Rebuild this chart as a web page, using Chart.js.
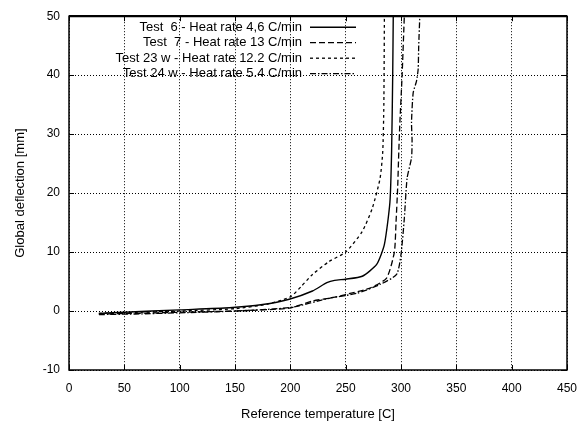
<!DOCTYPE html>
<html>
<head>
<meta charset="utf-8">
<script src="https://cdn.jsdelivr.net/npm/chart.js@4.4.1/dist/chart.umd.min.js"></script>
<style>
  html, body { margin: 0; padding: 0; background: #fff; }
  #wrap { width: 579px; height: 422px; }
</style>
</head>
<body>
<div id="wrap"><canvas id="myChart" width="579" height="422"></canvas></div>
<script>
// values: temperature [C] -> deflection [mm]
const labels = [
  "Test  6 - Heat rate 4,6 C/min",
  "Test  7 - Heat rate 13 C/min",
  "Test 23 w - Heat rate 12.2 C/min",
  "Test 24 w - Heat rate 5.4 C/min",
];

const test6T = [27, 50, 100, 145, 175, 199, 220, 233, 240, 250, 265, 278, 285, 290, 291.5, 292.5, 293];
const test6D = [-0.4, -0.2, 0.2, 0.55, 1.1, 2, 3.4, 4.8, 5.2, 5.4, 5.9, 7.9, 11.3, 18.5, 27, 40, 50];

const test7T = [27, 60, 100, 150, 199, 220, 236, 250, 272, 287, 294, 295.5, 297, 298, 299, 301, 303];
const test7D = [-0.5, -0.4, -0.2, 0, 0.5, 1.7, 2.2, 2.8, 3.9, 5.6, 10, 15, 21, 27, 32, 40, 50];

const test23T = [27, 50, 100, 150, 180, 200, 210, 220, 235, 250, 265, 274, 281, 283.5, 284.5, 285];
const test23D = [-0.4, -0.3, 0, 0.4, 1.2, 2.4, 4.2, 6.2, 8.4, 10, 13.5, 17.4, 22.4, 27, 35, 50];

const test24T = [27, 60, 100, 150, 200, 236, 260, 281, 296, 300, 303, 305.5, 309.5, 310, 309.5, 311, 314, 315.5, 316, 317];
const test24D = [-0.6, -0.5, -0.3, 0, 0.6, 2.2, 3, 4.5, 6.2, 9.6, 15.7, 22.5, 26, 29, 32, 37, 39, 41, 45, 50];

const xTicks = [0, 50, 100, 150, 200, 250, 300, 350, 400, 450];
const yTicks = [-10, 0, 10, 20, 30, 40, 50];

function toPoints(xs, ys) {
  return xs.map((x, i) => ({ x: x, y: ys[i] }));
}

const font = "'Liberation Sans', Arial, Helvetica, sans-serif";

// legend drawn inside the top right of the plot: text right aligned, line sample after it
const legendInside = {
  id: "legendInside",
  afterDatasetsDraw(chart) {
    const ctx = chart.ctx;
    const area = chart.chartArea;
    ctx.save();
    ctx.font = "13px " + font;
    ctx.fillStyle = "#000";
    ctx.textAlign = "right";
    ctx.textBaseline = "middle";
    chart.data.datasets.forEach((ds, i) => {
      const y = area.top + 11 + i * 15.5;
      ctx.fillText(ds.label, area.left + 233, y);
      ctx.beginPath();
      ctx.lineWidth = ds.borderWidth;
      ctx.strokeStyle = ds.borderColor;
      ctx.setLineDash(ds.borderDash || []);
      ctx.moveTo(area.left + 241, y);
      ctx.lineTo(area.left + 287, y);
      ctx.stroke();
    });
    ctx.restore();
  },
};

// full box round the plot, with small inward tick marks
const frame = {
  id: "frame",
  afterDraw(chart) {
    const ctx = chart.ctx;
    const a = chart.chartArea;
    const xs = chart.scales.x;
    const ys = chart.scales.y;
    ctx.save();
    ctx.strokeStyle = "#000";
    ctx.lineWidth = 1;
    ctx.beginPath();
    xTicks.forEach((v) => {
      const px = Math.round(xs.getPixelForValue(v)) + 0.5;
      ctx.moveTo(px, a.bottom);
      ctx.lineTo(px, a.bottom - 5);
      ctx.moveTo(px, a.top);
      ctx.lineTo(px, a.top + 5);
    });
    yTicks.forEach((v) => {
      const py = Math.round(ys.getPixelForValue(v)) + 0.5;
      ctx.moveTo(a.left, py);
      ctx.lineTo(a.left + 5, py);
      ctx.moveTo(a.right, py);
      ctx.lineTo(a.right - 5, py);
    });
    ctx.stroke();
    ctx.lineWidth = 1.5;
    ctx.strokeRect(a.left, a.top, a.right - a.left, a.bottom - a.top);
    ctx.lineWidth = 2.2;
    ctx.beginPath();
    ctx.moveTo(a.left, a.top);
    ctx.lineTo(a.right, a.top);
    ctx.stroke();
    ctx.restore();
  },
};

const whiteBg = {
  id: "whiteBg",
  beforeDraw(chart) {
    const ctx = chart.ctx;
    ctx.save();
    ctx.fillStyle = "#fff";
    ctx.fillRect(0, 0, chart.width, chart.height);
    ctx.restore();
  },
};

const ctx = document.getElementById("myChart");

new Chart(ctx, {
  type: "line",
  data: {
    datasets: [
      {
        label: labels[0],
        data: toPoints(test6T, test6D),
        borderColor: "#000",
        borderWidth: 1.4,
        borderDash: [],
      },
      {
        label: labels[1],
        data: toPoints(test7T, test7D),
        borderColor: "#000",
        borderWidth: 1.3,
        borderDash: [6, 3],
      },
      {
        label: labels[2],
        data: toPoints(test23T, test23D),
        borderColor: "#000",
        borderWidth: 1.3,
        borderDash: [3, 3],
      },
      {
        label: labels[3],
        data: toPoints(test24T, test24D),
        borderColor: "#000",
        borderWidth: 1.3,
        borderDash: [6, 2, 1.5, 2],
      },
    ],
  },
  options: {
    responsive: false,
    animation: false,
    parsing: false,
    elements: {
      point: { radius: 0 },
      line: { tension: 0.2, fill: false },
    },
    layout: {
      padding: { left: 0, right: 12, top: 15, bottom: 0 },
    },
    plugins: {
      legend: { display: false },
      tooltip: { enabled: false },
    },
    scales: {
      x: {
        type: "linear",
        min: 0,
        max: 450,
        afterBuildTicks: (scale) => {
          scale.ticks = xTicks.map((v) => ({ value: v }));
        },
        afterFit: (scale) => {
          scale.height = 52;
          scale.paddingLeft = 0;
          scale.paddingRight = 0;
        },
        grid: { color: "#000", lineWidth: 1, drawTicks: false },
        border: { display: false, dash: [1, 2] },
        ticks: {
          color: "#000",
          padding: 11,
          maxRotation: 0,
          font: { family: font, size: 12 },
        },
        title: {
          display: true,
          text: "Reference temperature [C]",
          color: "#000",
          padding: { top: 11, bottom: 0 },
          font: { family: font, size: 13 },
        },
      },
      y: {
        type: "linear",
        min: -10,
        max: 50,
        afterBuildTicks: (scale) => {
          scale.ticks = yTicks.map((v) => ({ value: v }));
        },
        afterFit: (scale) => {
          scale.width = 69;
        },
        grid: { color: "#000", lineWidth: 1, drawTicks: false },
        border: { display: false, dash: [1, 2] },
        ticks: {
          color: "#000",
          padding: 9,
          font: { family: font, size: 12 },
        },
        title: {
          display: true,
          text: "Global deflection [mm]",
          color: "#000",
          padding: { top: 13, bottom: 0 },
          font: { family: font, size: 13 },
        },
      },
    },
  },
  plugins: [whiteBg, legendInside, frame],
});
</script>
</body>
</html>
